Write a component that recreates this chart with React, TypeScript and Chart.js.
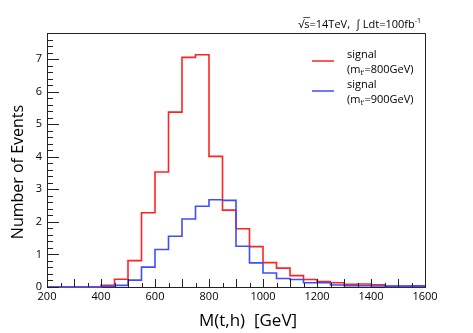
import React, { useEffect, useRef } from "react";
import { Chart, registerables } from "chart.js";

Chart.register(...registerables);

// Bin lower edges (GeV) plus the final upper edge
const binEdges = [
  200, 250, 300, 350, 400, 450, 500, 550, 600, 650, 700, 750, 800, 850, 900,
  950, 1000, 1050, 1100, 1150, 1200, 1250, 1300, 1350, 1400, 1450, 1500, 1550,
  1600,
];

// signal (m_t' = 800 GeV)
const redValues = [
  0, 0, 0, 0, 0.05, 0.24, 0.81, 2.28, 3.53, 5.37, 7.05, 7.13, 4.01, 2.36, 1.79,
  1.24, 0.75, 0.58, 0.35, 0.23, 0.17, 0.13, 0.08, 0.09, 0.07, 0.03, 0.03, 0.04,
];

// signal (m_t' = 900 GeV)
const blueValues = [
  0, 0, 0, 0, 0.02, 0.05, 0.21, 0.61, 1.15, 1.56, 2.09, 2.48, 2.68, 2.66, 1.25,
  0.74, 0.43, 0.26, 0.23, 0.13, 0.13, 0.06, 0.04, 0.04, 0.03, 0.02, 0.02, 0.02,
];

const xTickLabels = [200, 400, 600, 800, 1000, 1200, 1400, 1600];
const yTickLabels = [0, 1, 2, 3, 4, 5, 6, 7];

const legendLabels = ["800GeV", "900GeV"];
const xTitle = "M(t,h)  [GeV]";
const yTitle = "Number of Events";

const RED = "rgb(255,35,35)";
const BLUE = "rgb(65,75,255)";
const FONT = "'Open Sans'";

function toSteps(values: number[]) {
  return binEdges.map((x, i) => ({
    x,
    y: i < values.length ? values[i] : values[values.length - 1],
  }));
}

const framePlugin = {
  id: "rootFrame",
  afterDraw(chart: any) {
    const { ctx, chartArea: a, scales } = chart;
    const xs = scales.x;
    const ys = scales.y;
    ctx.save();
    ctx.strokeStyle = "#222";
    ctx.lineWidth = 1;
    // frame
    ctx.beginPath();
    ctx.moveTo(a.left, a.top + 0.5);
    ctx.lineTo(a.right + 0.5, a.top + 0.5);
    ctx.lineTo(a.right + 0.5, a.bottom);
    ctx.stroke();
    // x ticks inward
    ctx.beginPath();
    for (let v = 200; v <= 1600; v += 50) {
      const px = Math.round(xs.getPixelForValue(v)) + 0.5;
      const len = v % 100 === 0 ? 8 : 4;
      ctx.moveTo(px, a.bottom);
      ctx.lineTo(px, a.bottom - len);
    }
    // y ticks inward
    for (let k = 0; k <= 39; k++) {
      const v = k / 5;
      const py = Math.round(ys.getPixelForValue(v)) + 0.5;
      const len = k % 5 === 0 ? 12 : 6;
      ctx.moveTo(a.left, py);
      ctx.lineTo(a.left + len, py);
    }
    ctx.stroke();

    // axis titles
    ctx.fillStyle = "#000";
    ctx.font = `17px ${FONT}`;
    ctx.textAlign = "center";
    ctx.textBaseline = "middle";
    ctx.fillText(xTitle, 248, 321);
    ctx.save();
    ctx.translate(18, 172);
    ctx.rotate(-Math.PI / 2);
    ctx.font = `16px ${FONT}`;
    ctx.fillText(yTitle, 0, 0);
    ctx.restore();

    // top-right text
    ctx.fillStyle = "#000";
    ctx.textBaseline = "alphabetic";
    ctx.textAlign = "left";
    const main = "s=14TeV,  \u222B Ldt=100fb";
    const sup = "-1";
    ctx.font = `7px ${FONT}`;
    const supW = ctx.measureText(sup).width;
    ctx.font = `11px ${FONT}`;
    const mainW = ctx.measureText(main).width;
    const rootW = ctx.measureText("\u221A").width;
    const endX = 421;
    const baseY = 28;
    const startMain = endX - supW - mainW;
    ctx.fillText("\u221A", startMain - rootW, baseY);
    ctx.fillText(main, startMain, baseY);
    ctx.beginPath();
    ctx.lineWidth = 0.8;
    ctx.moveTo(startMain - 1, baseY - 10.5);
    ctx.lineTo(startMain + ctx.measureText("s").width + 0.5, baseY - 10.5);
    ctx.stroke();
    ctx.font = `7px ${FONT}`;
    ctx.fillText(sup, startMain + mainW, baseY - 5);

    // legend
    const items = [
      { color: RED, y: 61, mass: legendLabels[0] },
      { color: BLUE, y: 91, mass: legendLabels[1] },
    ];
    for (const it of items) {
      ctx.strokeStyle = it.color;
      ctx.lineWidth = 1.5;
      ctx.beginPath();
      ctx.moveTo(312, it.y);
      ctx.lineTo(334, it.y);
      ctx.stroke();
      ctx.fillStyle = "#000";
      ctx.font = `11px ${FONT}`;
      ctx.fillText("signal", 347, it.y - 3);
      let x = 347;
      const by = it.y + 12;
      ctx.fillText("(m", x, by);
      x += ctx.measureText("(m").width;
      ctx.font = `7px ${FONT}`;
      ctx.fillText("t'", x, by + 2);
      x += ctx.measureText("t'").width;
      ctx.font = `11px ${FONT}`;
      ctx.fillText("=" + it.mass + ")", x, by);
    }
    ctx.restore();
  },
};

export default function App() {
  const ref = useRef<HTMLCanvasElement | null>(null);

  useEffect(() => {
    document.body.style.margin = "0";
    const canvas = ref.current;
    if (!canvas) return;
    const chart = new Chart(canvas, {
      type: "line",
      data: {
        datasets: [
          {
            label: "signal (m_t'=800GeV)",
            data: toSteps(redValues),
            borderColor: RED,
            borderWidth: 1.6,
            stepped: "before",
            pointRadius: 0,
            fill: false,
            clip: false,
            order: 1,
          } as any,
          {
            label: "signal (m_t'=900GeV)",
            data: toSteps(blueValues),
            borderColor: BLUE,
            borderWidth: 1.6,
            stepped: "before",
            pointRadius: 0,
            fill: false,
            clip: false,
            order: 0,
          } as any,
        ],
      },
      options: {
        responsive: false,
        animation: false,
        devicePixelRatio: 1,
        layout: { padding: { left: 0, top: 33, right: 48, bottom: 0 } },
        plugins: {
          legend: { display: false },
          tooltip: { enabled: false },
        },
        scales: {
          x: {
            type: "linear",
            min: 200,
            max: 1600,
            afterFit: (s: any) => {
              s.height = 46;
            },
            afterBuildTicks: (s: any) => {
              s.ticks = xTickLabels.map((v) => ({ value: v }));
            },
            grid: { display: true, drawOnChartArea: false, drawTicks: false },
            border: { display: true, color: "#222", width: 1 },
            ticks: {
              autoSkip: false,
              maxRotation: 0,
              padding: 3,
              color: "#000",
              font: { family: FONT, size: 11 },
              callback: (v: any) => String(v),
            },
          },
          y: {
            type: "linear",
            min: 0,
            max: 7.8,
            afterFit: (s: any) => {
              s.width = 47;
            },
            afterBuildTicks: (s: any) => {
              s.ticks = yTickLabels.map((v) => ({ value: v }));
            },
            grid: { display: true, drawOnChartArea: false, drawTicks: false },
            border: { display: true, color: "#222", width: 1 },
            ticks: {
              autoSkip: false,
              padding: 5,
              color: "#000",
              font: { family: FONT, size: 11 },
              callback: (v: any) => String(v),
            },
          },
        },
      },
      plugins: [framePlugin],
    });
    return () => chart.destroy();
  }, []);

  return (
    <div style={{ position: "absolute", left: 0, top: 0, width: 473, height: 333, background: "#fff" }}>
      <canvas ref={ref} width={473} height={333} />
    </div>
  );
}
